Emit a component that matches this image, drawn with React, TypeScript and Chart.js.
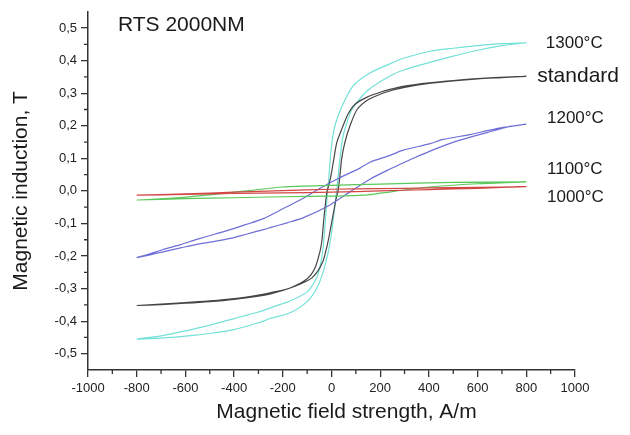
import React, { useEffect, useRef } from 'react';
import { Chart, registerables } from 'chart.js';

Chart.register(...registerables);

type Pt = [number, number];

// Magnetic field strength H (A/m), magnetic induction B (T)
const standardDown: Pt[] = [[800,0.352],[650,0.347],[500,0.339],[400,0.332],[300,0.322],[240,0.312],[200,0.303],[146,0.288],[97,0.266],[68,0.236],[45,0.195],[22,0.149],[10,0.10],[1,0.06],[-10,0.02],[-18,0.0],[-25,-0.04],[-32,-0.09],[-39,-0.15],[-47,-0.185],[-68,-0.237],[-100,-0.27],[-170,-0.298],[-252,-0.313],[-300,-0.320],[-400,-0.331],[-500,-0.338],[-600,-0.343],[-700,-0.348],[-800,-0.352]];
const standardUp: Pt[] = [[-800,-0.352],[-700,-0.349],[-600,-0.345],[-500,-0.340],[-400,-0.333],[-300,-0.323],[-250,-0.316],[-200,-0.306],[-150,-0.293],[-110,-0.280],[-80,-0.267],[-55,-0.245],[-35,-0.216],[-25,-0.19],[-14,-0.155],[0,-0.10],[10,-0.06],[20,-0.02],[27,0.0],[35,0.05],[42,0.10],[55,0.149],[76,0.20],[105,0.25],[150,0.280],[200,0.297],[250,0.309],[300,0.318],[400,0.330],[500,0.338],[600,0.344],[700,0.348],[800,0.352]];

const c1300Down: Pt[] = [[800,0.455],[700,0.452],[600,0.446],[500,0.438],[400,0.428],[300,0.408],[240,0.390],[158,0.362],[88,0.322],[43,0.26],[14,0.20],[2,0.149],[-6,0.09],[-12,0.03],[-16,0.0],[-22,-0.06],[-28,-0.12],[-35,-0.18],[-45,-0.225],[-60,-0.265],[-100,-0.31],[-170,-0.338],[-240,-0.356],[-300,-0.372],[-400,-0.392],[-500,-0.412],[-600,-0.430],[-700,-0.445],[-800,-0.455]];
const c1300Up: Pt[] = [[-800,-0.455],[-700,-0.452],[-600,-0.446],[-500,-0.438],[-400,-0.426],[-300,-0.405],[-252,-0.392],[-170,-0.374],[-100,-0.340],[-60,-0.298],[-35,-0.250],[-14,-0.19],[0,-0.13],[10,-0.07],[18,-0.02],[24,0.02],[32,0.08],[43,0.15],[55,0.19],[84,0.25],[146,0.307],[240,0.353],[300,0.372],[400,0.394],[500,0.414],[600,0.432],[700,0.446],[800,0.455]];

const c1200Down: Pt[] = [[800,0.205],[705,0.195],[640,0.185],[569,0.173],[458,0.158],[405,0.145],[294,0.125],[240,0.109],[158,0.088],[117,0.070],[22,0.036],[-47,0.008],[-129,-0.028],[-200,-0.055],[-280,-0.085],[-350,-0.103],[-416,-0.119],[-480,-0.133],[-553,-0.149],[-620,-0.165],[-692,-0.18],[-750,-0.194],[-800,-0.205]];
const c1200Up: Pt[] = [[-800,-0.205],[-750,-0.197],[-692,-0.187],[-620,-0.175],[-553,-0.164],[-480,-0.155],[-416,-0.146],[-350,-0.133],[-280,-0.119],[-252,-0.113],[-182,-0.098],[-117,-0.083],[-6,-0.043],[76,-0.003],[158,0.036],[240,0.067],[300,0.088],[363,0.109],[430,0.130],[499,0.149],[570,0.165],[638,0.179],[733,0.198],[800,0.205]];

const c1100Down: Pt[] = [[800,0.028],[500,0.026],[200,0.021],[0,0.017],[-200,0.012],[-350,0.0],[-500,-0.012],[-650,-0.022],[-800,-0.028]];
const c1100Up: Pt[] = [[-800,-0.028],[-600,-0.024],[-400,-0.021],[-200,-0.018],[0,-0.016],[150,-0.012],[250,-0.002],[400,0.012],[600,0.022],[800,0.028]];

const c1000Down: Pt[] = [[800,0.013],[600,0.011],[400,0.009],[200,0.007],[0,0.005],[-200,0.001],[-400,-0.004],[-600,-0.009],[-800,-0.013]];
const c1000Up: Pt[] = [[-800,-0.013],[-600,-0.011],[-400,-0.008],[-200,-0.006],[0,-0.004],[200,0.0],[400,0.004],[600,0.008],[800,0.013]];

const xTickValues = [-1000, -800, -600, -400, -200, 0, 200, 400, 600, 800, 1000];
const yTickValues = [-0.5, -0.4, -0.3, -0.2, -0.1, 0, 0.1, 0.2, 0.3, 0.4, 0.5];
const xMinorTicks = [-900, -700, -500, -300, -100, 100, 300, 500, 700, 900];
const yMinorTicks = [-0.45, -0.35, -0.25, -0.15, -0.05, 0.05, 0.15, 0.25, 0.35, 0.45];

const curveLabels = ['1300°C', 'standard', '1200°C', '1100°C', '1000°C'];
const curveLabelH = [880, 845, 885, 885, 885];
const curveLabelB = [0.453, 0.353, 0.222, 0.067, -0.021];

const FONT = '"Liberation Sans", Arial, sans-serif';

const toXY = (pts: Pt[]) => pts.map(([x, y]) => ({ x, y }));

export default function App() {
  const ref = useRef<HTMLCanvasElement | null>(null);

  useEffect(() => {
    document.body.style.margin = '0';
    const canvas = ref.current;
    if (!canvas) return;

    const overlay = {
      id: 'overlay',
      afterDraw(chart: any) {
        const { ctx, chartArea, scales } = chart;
        const xs = scales.x;
        const ys = scales.y;
        ctx.save();
        ctx.strokeStyle = '#333';
        ctx.lineWidth = 1.3;
        ctx.beginPath();
        for (const v of xMinorTicks) {
          const px = xs.getPixelForValue(v);
          ctx.moveTo(px, chartArea.bottom);
          ctx.lineTo(px, chartArea.bottom + 4);
        }
        for (const v of yMinorTicks) {
          const py = ys.getPixelForValue(v);
          ctx.moveTo(chartArea.left, py);
          ctx.lineTo(chartArea.left - 4, py);
        }
        ctx.stroke();

        ctx.fillStyle = '#1a1a1a';
        ctx.textBaseline = 'middle';
        ctx.textAlign = 'left';
        curveLabels.forEach((t, i) => {
          ctx.font = (t === 'standard' ? '21px ' : '17px ') + FONT;
          ctx.fillText(t, xs.getPixelForValue(curveLabelH[i]), ys.getPixelForValue(curveLabelB[i]));
        });

        ctx.font = '21px ' + FONT;
        ctx.textBaseline = 'alphabetic';
        ctx.fillText('RTS 2000NM', xs.getPixelForValue(-877), ys.getPixelForValue(0.492));

        ctx.textAlign = 'center';
        ctx.textBaseline = 'middle';
        ctx.fillText('Magnetic field strength, A/m', (chartArea.left + chartArea.right) / 2 + 15, 412);
        ctx.restore();
      },
    };

    const mk = (down: Pt[], up: Pt[], color: string, label: string) => ({
      label,
      data: [...toXY(down), ...toXY(up)],
      borderColor: color,
      borderWidth: 1.2,
      pointRadius: 0,
      fill: false,
      tension: 0.25,
    });

    const chart = new Chart(canvas, {
      type: 'line',
      data: {
        datasets: [
          mk(c1000Down, c1000Up, 'rgb(210,70,70)', '1000°C'),
          mk(c1100Down, c1100Up, 'rgb(90,200,90)', '1100°C'),
          mk(c1200Down, c1200Up, 'rgb(110,110,215)', '1200°C'),
          mk(standardDown, standardUp, 'rgb(70,70,70)', 'standard'),
          mk(c1300Down, c1300Up, 'rgb(115,225,215)', '1300°C'),
        ] as any,
      },
      options: {
        responsive: false,
        animation: false,
        layout: { padding: { left: 0, top: 9, right: 55, bottom: 0 } },
        plugins: { legend: { display: false }, tooltip: { enabled: false } },
        scales: {
          x: {
            type: 'linear',
            min: -1000,
            max: 1000,
            afterBuildTicks(s: any) { s.ticks = xTickValues.map((v) => ({ value: v })); },
            ticks: {
              font: { family: FONT, size: 13 },
              color: '#222',
              padding: 4,
              maxRotation: 0,
              autoSkip: false,
              callback: (v: any) => String(Math.round(Number(v))),
            },
            grid: { drawOnChartArea: false, drawTicks: true, tickLength: 7, color: '#333', lineWidth: 1.3 },
            border: { display: true, color: '#333', width: 1.5 },
            afterFit(s: any) { s.height = 65; },
          },
          y: {
            type: 'linear',
            min: -0.55,
            max: 0.55,
            afterBuildTicks(s: any) { s.ticks = yTickValues.map((v) => ({ value: v })); },
            ticks: {
              autoSkip: false,
              font: { family: FONT, size: 13 },
              color: '#222',
              padding: 4,
              callback: (v: any) => {
                const n = Number(v);
                const s = (Math.abs(n) < 1e-9 ? 0 : n).toFixed(1);
                return s.replace('.', ',');
              },
            },
            grid: { drawOnChartArea: false, drawTicks: true, tickLength: 7, color: '#333', lineWidth: 1.3 },
            border: { display: true, color: '#333', width: 1.5 },
            title: {
              display: true,
              text: 'Magnetic induction, T',
              font: { family: FONT, size: 21 },
              color: '#1a1a1a',
              padding: { top: 9, bottom: 0 },
            },
            afterFit(s: any) { s.width = 88; },
          },
        },
      } as any,
      plugins: [overlay],
    });

    return () => chart.destroy();
  }, []);

  return <canvas ref={ref} width={630} height={435} style={{ display: 'block' }} />;
}
